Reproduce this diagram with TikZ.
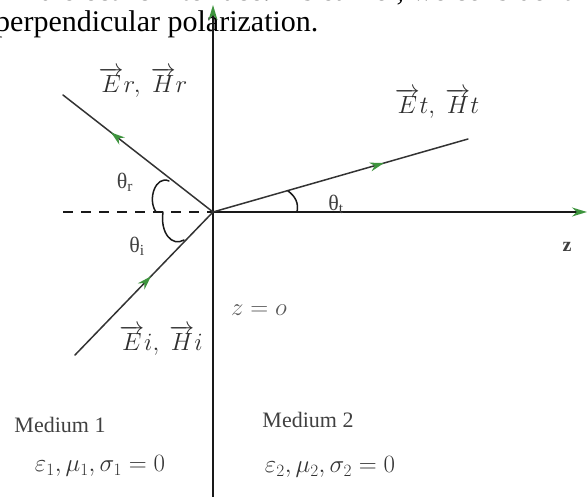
\documentclass[tikz,border=0pt]{standalone}
\usepackage{fontspec}
\setmainfont{Liberation Serif}
\usetikzlibrary{arrows.meta,decorations.markings}
\definecolor{rayTip}{RGB}{62,148,62}

\begin{document}
\begin{tikzpicture}[
  midtip/.style={postaction={decorate,decoration={markings,
    mark=at position #1 with {\arrow{Stealth[length=14pt,width=9pt,color=rayTip]}}}}},
  wavelabel/.style={text=black!82, font=\fontsize{24}{26}\selectfont, inner sep=0pt},
  paramlabel/.style={text=black!80, font=\fontsize{27}{29}\selectfont, inner sep=0pt},
  anglelabel/.style={text=black!75, font=\fontsize{22}{24}\selectfont, inner sep=0pt},
  mediumlabel/.style={text=black!75, font=\fontsize{22}{24}\selectfont, inner sep=0pt}]
% Plane wave meeting the boundary z = o
\def\pxsz{1pt}
\providecommand{\axisLineColor}{black!90}
\providecommand{\rayLineColor}{black!80}
\providecommand{\axisLineWidth}{1.8pt}
\providecommand{\rayLineWidth}{1.5pt}
\begin{scope}[x=\pxsz, y=-\pxsz, line cap=round, line join=round]
  % Frame and clip
  \useasboundingbox (0,0) rectangle (587,497);
  \clip (0,0) rectangle (587,497);
  % Page text above the figure
  \node[anchor=base east, inner sep=0pt, font=\fontsize{30}{34}\selectfont] (pageline) at (600,1) {dielectric interface. As earlier, we consider the};
  \node[anchor=base west, inner sep=0pt, font=\fontsize{30}{34}\selectfont] (pagetext) at (-5,32) {perpendicular polarization.};
  % Points
  \coordinate (O) at (213,212);
  \coordinate (ytop) at (213,5);
  \coordinate (ybot) at (213,497);
  \coordinate (zend) at (587,212);
  \coordinate (dashend) at (63,212);
  \coordinate (rend) at (63,95);
  \coordinate (istart) at (75,355);
  \coordinate (tend) at (468,139);
  % Axes
  \begin{scope}[draw=\axisLineColor, line width=\axisLineWidth]
    \draw[-{Stealth[length=15pt,width=9pt,color=rayTip]}] (ybot) -- (ytop);
    \draw[-{Stealth[length=15pt,width=9pt,color=rayTip]}] (O) -- (zend);
    \draw[dash pattern=on 10pt off 8pt, line cap=butt] (dashend) -- (O);
  \end{scope}
  % Rays
  \begin{scope}[draw=\rayLineColor, line width=\rayLineWidth]
    \draw[midtip=0.55] (istart) -- (O);
    \draw[midtip=0.68] (O) -- (rend);
    \draw[midtip=0.67] (O) -- (tend);
  \end{scope}
  % Angle marks
  \begin{scope}[draw=\axisLineColor, line width=1.5pt]
    \draw (169,181) .. controls (156,175) and (147,199) .. (156,212);
    \draw (163,212) .. controls (160,233) and (172,247) .. (184,240);
    \draw (297,212) .. controls (299,203) and (295,196) .. (288,191);
  \end{scope}
  % Labels
  \node[anglelabel] (thr) at (125,182) {θ\textsubscript{r}};
  \node[anglelabel] (thi) at (137,246) {θ\textsubscript{i}};
  \node[anglelabel] (tht) at (336,204) {θ\textsubscript{t}};
  \node[wavelabel] (reflab) at (143,82) {$\overrightarrow{E}r,\ \overrightarrow{H}r$};
  \node[wavelabel] (translab) at (437,103) {$\overrightarrow{E}t,\ \overrightarrow{H}t$};
  \node[wavelabel] (inclab) at (161,340) {$\overrightarrow{E}i,\ \overrightarrow{H}i$};
  \node[wavelabel, text=black!65] (planelab) at (259,310) {$z = o$};
  \node[mediumlabel, font=\fontsize{20}{22}\selectfont\bfseries] (zlab) at (567,247) {z};
  \node[mediumlabel] (med1) at (60,425) {Medium 1};
  \node[mediumlabel] (med2) at (308,420) {Medium 2};
  \node[paramlabel] (par1) at (100,466) {$\varepsilon_1, \mu_1, \sigma_1 = 0$};
  \node[paramlabel] (par2) at (330,467) {$\varepsilon_2, \mu_2, \sigma_2 = 0$};
\end{scope}
\end{tikzpicture}
\end{document}
